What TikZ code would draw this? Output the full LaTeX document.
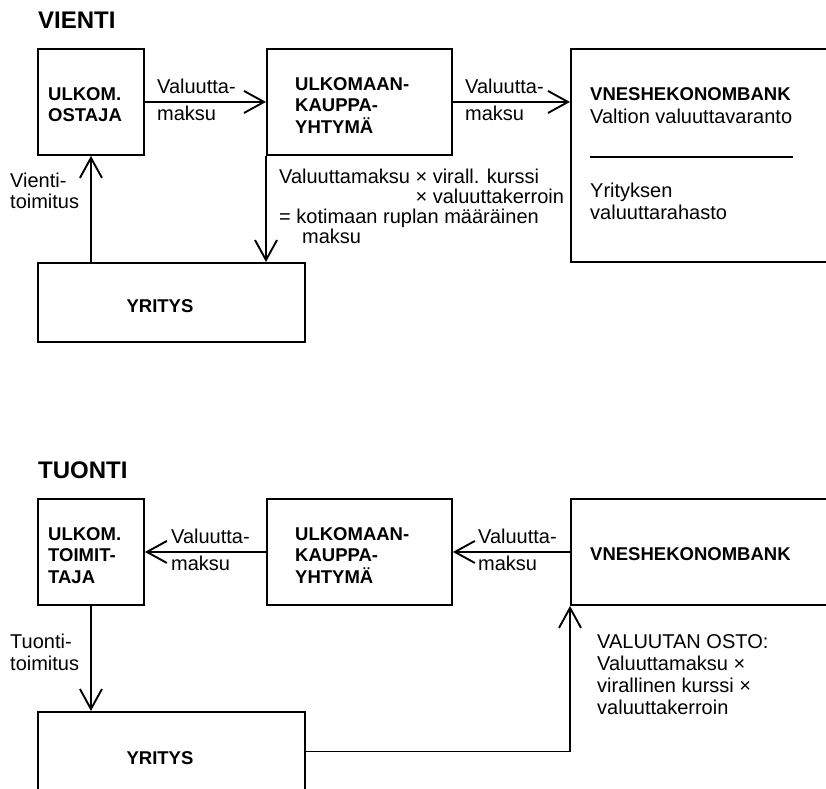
\documentclass[tikz,border=0pt]{standalone}
\usepackage{fontspec}
\setmainfont{Liberation Sans}
\usetikzlibrary{arrows.meta}
\newcommand{\mlines}[1]{\vtop{\halign{##\hfil\cr#1\crcr}}}
\begin{document}
\begin{tikzpicture}[x=1pt,y=-1pt,
  box/.style={draw, line width=1.9pt, inner sep=0pt, anchor=north west},
  conn/.style={line width=1.9pt, -{Straight Barb[length=20pt,width=22pt,line width=1.9pt]}},
  lbl/.style={anchor=base west, inner sep=0pt, font=\fontsize{20}{21}\selectfont},
  lblwide/.style={anchor=base west, inner sep=0pt, font=\fontsize{20}{27}\selectfont},
  bld/.style={anchor=base west, inner sep=0pt, font=\fontsize{18.5}{21.5}\selectfont\bfseries},
  bldc/.style={anchor=center, inner sep=0pt, font=\fontsize{18.5}{21.5}\selectfont\bfseries},
  ttl/.style={anchor=base west, inner sep=0pt, font=\fontsize{24}{28}\selectfont\bfseries}]
\useasboundingbox (0,0) rectangle (826,788);
\fill[white] (0,0) rectangle (826,788);

% ---------------- VIENTI ----------------
\node[ttl] (t1) at (38,28) {VIENTI};
\node[box, minimum width=106pt, minimum height=106pt] (ostaja) at (37,48) {};
\node[box, minimum width=185pt, minimum height=106pt] (kauppa) at (266,48) {};
\node[box, minimum width=262pt, minimum height=213pt] (vnesh) at (570,48) {};
\node[box, minimum width=267pt, minimum height=79pt] (yritys) at (37,262) {};

\node[bld] (ostajat) at (48,100) {\mlines{ULKOM.\cr OSTAJA}};
\node[bld] (kauppat) at (295,90) {\mlines{ULKOMAAN-\cr KAUPPA-\cr YHTYMÄ}};
\node[bld] (vnesht) at (590,100) {VNESHEKONOMBANK};
\node[lbl] (valtio) at (590,123) {Valtion valuuttavaranto};
\draw[line width=1.4pt] (590,157) -- (793,157);
\node[lbl, font=\fontsize{20}{22}\selectfont] (yrrah) at (590,197) {\mlines{Yrityksen\cr valuuttarahasto}};
\node[bldc] (yrityst) at (160,306) {YRITYS};

\draw[conn] (ostaja.east) -- (kauppa.west);
\draw[conn] (kauppa.east) -- (vnesh.west |- kauppa.east);
\draw[conn] (kauppa.south west) -- (kauppa.south west |- yritys.north);
\draw[conn] (yritys.north -| ostaja.south) -- (ostaja.south);

\node[lblwide] (l1) at (157,93) {\mlines{Valuutta-\cr maksu}};
\node[lblwide] (l2) at (465,93) {\mlines{Valuutta-\cr maksu}};
\node[lbl] (vt) at (10,187) {\mlines{Vienti-\cr toimitus}};
\node[lbl, font=\fontsize{20}{20}\selectfont] (kaava) at (279,183)
  {\mlines{Valuuttamaksu × virall. kurssi\cr
   \phantom{Valuuttamaksu }× valuuttakerroin\cr
   = kotimaan ruplan määräinen\cr
   \hspace*{23pt}maksu}};

% ---------------- TUONTI ----------------
\node[ttl] (t2) at (38,478) {TUONTI};
\node[box, minimum width=106pt, minimum height=106pt] (toim) at (37,498) {};
\node[box, minimum width=185pt, minimum height=106pt] (kauppa2) at (266,498) {};
\node[box, minimum width=262pt, minimum height=106pt] (vnesh2) at (570,498) {};
\node[box, minimum width=267pt, minimum height=79pt] (yritys2) at (37,711) {};

\node[bld] (toimt) at (48,540) {\mlines{ULKOM.\cr TOIMIT-\cr TAJA}};
\node[bld] (kauppa2t) at (295,540) {\mlines{ULKOMAAN-\cr KAUPPA-\cr YHTYMÄ}};
\node[bld] (vnesh2t) at (590,560) {VNESHEKONOMBANK};
\node[bldc] (yritys2t) at (160,758) {YRITYS};

\draw[conn] (kauppa2.west) -- (toim.east);
\draw[conn] (vnesh2.west) -- (kauppa2.east);
\draw[conn] (toim.south) -- (toim.south |- yritys2.north);
\draw[conn] (yritys2.east) -| (vnesh2.south west);

\node[lblwide] (l3) at (171,543) {\mlines{Valuutta-\cr maksu}};
\node[lblwide] (l4) at (478,543) {\mlines{Valuutta-\cr maksu}};
\node[lbl, font=\fontsize{20}{22}\selectfont] (tt) at (10,648) {\mlines{Tuonti-\cr toimitus}};
\node[lbl, font=\fontsize{20}{22}\selectfont] (osto) at (597,648)
  {\mlines{VALUUTAN OSTO:\cr Valuuttamaksu ×\cr virallinen kurssi ×\cr valuuttakerroin}};
\end{tikzpicture}
\end{document}
